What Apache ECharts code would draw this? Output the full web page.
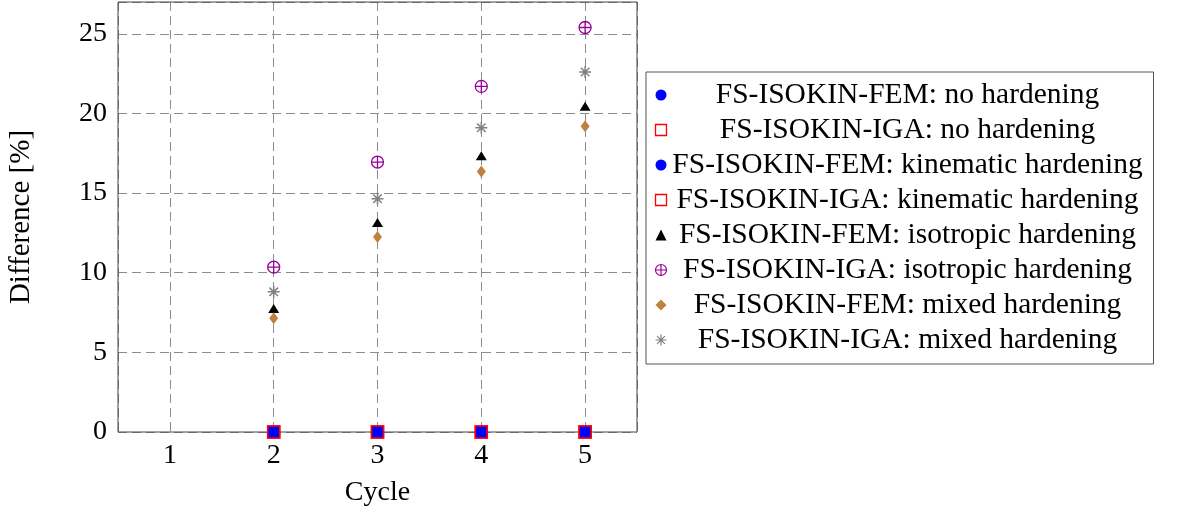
<!DOCTYPE html>
<html><head><meta charset="utf-8">
<script src="https://cdn.jsdelivr.net/npm/echarts@6/dist/echarts.min.js"></script>
<style>html,body{margin:0;padding:0;background:#fff}#c{width:1195px;height:512px}</style>
</head><body><div id="c"></div>
<script>
const cycles = [2, 3, 4, 5];
const noHardFEM = [0, 0, 0, 0];
const noHardIGA = [0, 0, 0, 0];
const kinFEM = [0, 0, 0, 0];
const kinIGA = [0, 0, 0, 0];
const isoFEM = [7.75, 13.15, 17.35, 20.45];
const isoIGA = [10.35, 16.95, 21.7, 25.4];
const mixFEM = [7.15, 12.25, 16.35, 19.2];
const mixIGA = [8.8, 14.65, 19.1, 22.6];
const seriesNames = [
  'FS-ISOKIN-FEM: no hardening',
  'FS-ISOKIN-IGA: no hardening',
  'FS-ISOKIN-FEM: kinematic hardening',
  'FS-ISOKIN-IGA: kinematic hardening',
  'FS-ISOKIN-FEM: isotropic hardening',
  'FS-ISOKIN-IGA: isotropic hardening',
  'FS-ISOKIN-FEM: mixed hardening',
  'FS-ISOKIN-IGA: mixed hardening'
];
const yTicks = [0, 5, 10, 15, 20, 25];
const xTicks = [1, 2, 3, 4, 5];

const FONT = 'Liberation Serif';
const circlePlus = 'path://M0,-10 A10,10 0 1,1 0,10 A10,10 0 1,1 0,-10 Z M-10,0 L10,0 M0,-10 L0,10';
const asterisk = 'path://M-10,0 L10,0 M0,-10 L0,10 M-7.07,-7.07 L7.07,7.07 M-7.07,7.07 L7.07,-7.07';

function pts(vals) { return cycles.map((c, i) => [c, vals[i]]); }

const styles = [
  {data: noHardFEM, symbol: 'rect', symbolSize: 11, itemStyle: {color: '#0000ff', opacity: 1}},
  {data: noHardIGA, symbol: 'rect', symbolSize: 12, itemStyle: {color: '#0000ff', borderColor: '#ff0000', borderWidth: 1.5, opacity: 1}},
  {data: kinFEM, symbol: 'rect', symbolSize: 11, itemStyle: {color: '#0000ff', opacity: 1}},
  {data: kinIGA, symbol: 'rect', symbolSize: 12, itemStyle: {color: '#0000ff', borderColor: '#ff0000', borderWidth: 1.5, opacity: 1}},
  {data: isoFEM, symbol: 'triangle', symbolSize: [11, 9], itemStyle: {color: '#000000', opacity: 1}},
  {data: isoIGA, symbol: circlePlus, symbolSize: 12, itemStyle: {color: 'none', borderColor: '#990099', borderWidth: 1.3, opacity: 1}},
  {data: mixFEM, symbol: 'diamond', symbolSize: [9, 12], itemStyle: {color: '#bf8040', opacity: 1}},
  {data: mixIGA, symbol: asterisk, symbolSize: 12, itemStyle: {color: 'none', borderColor: '#808080', borderWidth: 1.5, opacity: 1}}
];

const legendData = [
  {name: seriesNames[0], icon: 'circle', itemStyle: {color: '#0000ff', opacity: 1}},
  {name: seriesNames[1], icon: 'rect', itemStyle: {color: '#ffffff', borderColor: '#ff0000', borderWidth: 1.3, opacity: 1}},
  {name: seriesNames[2], icon: 'circle', itemStyle: {color: '#0000ff', opacity: 1}},
  {name: seriesNames[3], icon: 'rect', itemStyle: {color: '#ffffff', borderColor: '#ff0000', borderWidth: 1.3, opacity: 1}},
  {name: seriesNames[4], icon: 'triangle', itemStyle: {color: '#000000', opacity: 1}},
  {name: seriesNames[5], icon: circlePlus, itemStyle: {color: 'none', borderColor: '#990099', borderWidth: 1.2, opacity: 1}},
  {name: seriesNames[6], icon: 'diamond', itemStyle: {color: '#bf8040', opacity: 1}},
  {name: seriesNames[7], icon: asterisk, itemStyle: {color: 'none', borderColor: '#808080', borderWidth: 1.2, opacity: 1}}
];

const chart = echarts.init(document.getElementById('c'), null, {renderer: 'canvas'});
chart.setOption({
  animation: false,
  backgroundColor: '#ffffff',
  textStyle: {fontFamily: FONT},
  grid: {left: 118, top: 2, right: 558, bottom: 79, show: true, borderColor: '#444', borderWidth: 1, backgroundColor: 'transparent', z: 10},
  xAxis: {
    type: 'value', min: 0.5, max: 5.5, splitNumber: 5,
    name: 'Cycle', nameLocation: 'middle', nameGap: 47,
    nameTextStyle: {fontFamily: FONT, fontSize: 28, color: '#000'},
    axisLine: {show: false}, axisTick: {show: false},
    axisLabel: {fontFamily: FONT, fontSize: 28, color: '#000', margin: 10, showMinLabel: false, showMaxLabel: false,
      formatter: v => xTicks.indexOf(v) >= 0 ? String(v) : ''},
    splitLine: {show: true, lineStyle: {color: '#8c8c8c', type: [9, 5], width: 1}}
  },
  yAxis: {
    type: 'value', min: 0, max: 27, interval: 5,
    name: 'Difference [%]', nameLocation: 'middle', nameGap: 82, nameRotate: 90,
    nameTextStyle: {fontFamily: FONT, fontSize: 29, color: '#000'},
    axisLine: {show: false}, axisTick: {show: false},
    axisLabel: {fontFamily: FONT, fontSize: 28, color: '#000', margin: 11, showMaxLabel: false,
      formatter: v => yTicks.indexOf(v) >= 0 ? String(v) : ''},
    splitLine: {show: true, lineStyle: {color: '#8c8c8c', type: [9, 5], width: 1}}
  },
  legend: {
    orient: 'vertical', left: 646, top: 72,
    padding: [8, 10, 9, 7],
    itemWidth: 11, itemHeight: 11, itemGap: 5,
    borderColor: '#555', borderWidth: 1, backgroundColor: '#fff',
    selectedMode: false,
    data: legendData,
    formatter: name => '{c|' + name + '}',
    textStyle: {
      rich: {c: {width: 472, align: 'center', fontFamily: FONT, fontSize: 29.5, lineHeight: 28, color: '#000'}}
    }
  },
  series: styles.map((s, i) => ({
    name: seriesNames[i], type: 'scatter', data: pts(s.data),
    symbol: s.symbol, symbolSize: s.symbolSize, itemStyle: s.itemStyle,
    emphasis: {disabled: true}, z: 20 + i
  }))
});
</script></body></html>
